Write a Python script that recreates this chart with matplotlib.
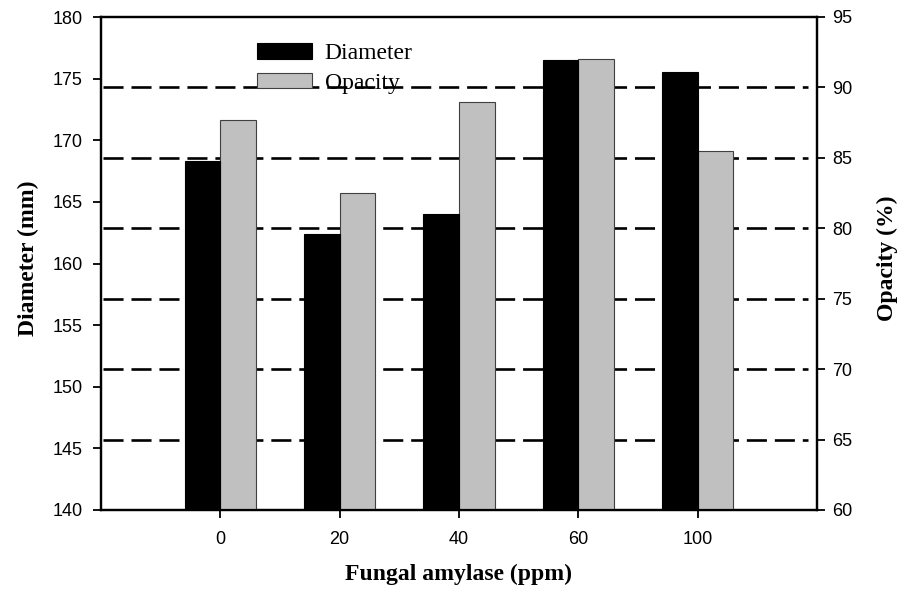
import numpy as np
import matplotlib
matplotlib.use("Agg")
import matplotlib.pyplot as plt

# data
doses = ["0", "20", "40", "60", "100"]
diameter = [168.3, 162.4, 164.0, 176.5, 175.5]
opacity = [87.7, 82.5, 89.0, 92.0, 85.5]
grid_levels = [65, 70, 75, 80, 85, 90]

sans = ["Liberation Sans", "DejaVu Sans"]
serif = ["Liberation Serif", "DejaVu Serif"]

fig = plt.figure(figsize=(9.01, 5.95), dpi=100)
ax = fig.add_axes([101/901, 1-510/595, 716/901, 493/595])
ax2 = ax.twinx()
# black bars on top of the grey ones and the dashes
ax.set_zorder(ax2.get_zorder() + 1)
ax.patch.set_visible(False)

x = np.arange(len(doses))
w = 0.3
b1 = ax.bar(x - w/2, np.array(diameter) - 140, w, bottom=140,
            color="black", edgecolor="black", linewidth=0.8, label="Diameter")
b2 = ax2.bar(x + w/2, np.array(opacity) - 60, w, bottom=60,
             color="#c0c0c0", edgecolor="#404040", linewidth=0.8,
             label="Opacity", zorder=3)
for g in grid_levels:
    ax2.axhline(g, xmin=0.003, xmax=0.988, color="black", lw=1.9,
                ls=(0, (7.6, 3.0)), zorder=1)

ax.set_xlim(-1, 5)
ax.set_ylim(140, 180)
ax2.set_ylim(60, 95)
ax.set_yticks(np.arange(140, 181, 5))
ax2.set_yticks(np.arange(60, 96, 5))
ax.set_xticks(x)
ax.set_xticklabels(doses)

for a in (ax, ax2):
    for s in a.spines.values():
        s.set_linewidth(1.6)
    a.tick_params(width=1.3, length=6, direction="out")
    for lab in a.get_xticklabels() + a.get_yticklabels():
        lab.set_family(sans)
        lab.set_fontsize(13)
ax.tick_params(axis="x", pad=9)
ax.tick_params(axis="y", pad=7)
ax2.tick_params(axis="y", pad=5)

lbl = dict(family=serif, fontsize=17, fontweight="bold")
ax.set_xlabel("Fungal amylase (ppm)", **lbl)
ax.set_ylabel("Diameter (mm)", **lbl)
ax2.set_ylabel("Opacity (%)", **lbl)
ax.xaxis.set_label_coords(0.5, -0.11)
ax.yaxis.set_label_coords(-0.087, 0.51)
ax2.yaxis.set_label_coords(1.083, 0.51)

leg = ax.legend([b1, b2], ["Diameter", "Opacity"], loc="upper left",
                bbox_to_anchor=(0.205, 0.966), frameon=False,
                prop=dict(family=serif, size=17), handlelength=2.3,
                handleheight=0.65, handletextpad=0.55, labelspacing=0.35,
                borderaxespad=0)

fig.savefig("out.png", dpi=100)
